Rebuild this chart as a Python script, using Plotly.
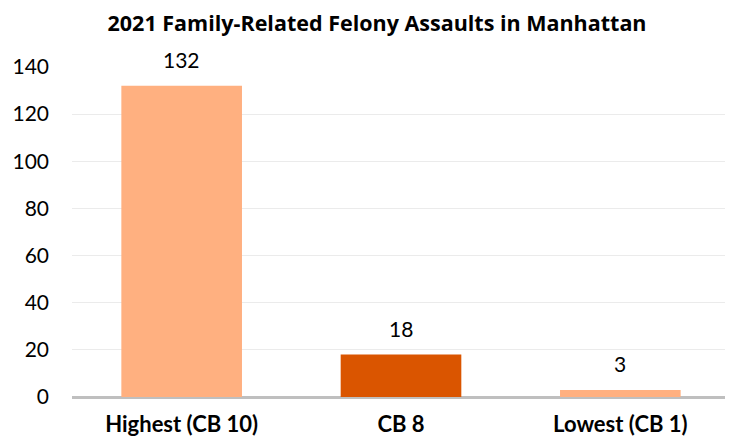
import plotly.graph_objects as go

categories = ["Highest (CB 10)", "CB 8", "Lowest (CB 1)"]
values = [132, 18, 3]
colors = ["#FFB080", "#DA5500", "#FFB080"]
y_ticks = [0, 20, 40, 60, 80, 100, 120, 140]
title = "2021 Family-Related Felony Assaults in Manhattan"

font_family = "Lato, 'Open Sans', sans-serif"

fig = go.Figure()
fig.add_trace(go.Bar(
    x=categories, y=values, marker=dict(color=colors, line=dict(width=0)),
    width=0.55, hoverinfo="skip",
))

for c, v in zip(categories, values):
    fig.add_annotation(x=c, y=v, text=str(v), showarrow=False, yshift=26,
                       font=dict(size=21, color="#000000", family=font_family))

# page body has an 8px margin: figure is sized/offset to compensate
fig.update_layout(
    width=725, height=430,
    margin=dict(l=64, r=3, t=59, b=41),
    paper_bgcolor="white", plot_bgcolor="white",
    showlegend=False,
    title=dict(text="<b>" + title + "</b>", x=0.509, xanchor="center", y=0.965, yanchor="middle",
               font=dict(size=21.5, color="#000000", family="'Open Sans', sans-serif")),
    xaxis=dict(showgrid=False, showline=False, zeroline=False, ticks="", automargin=False,
               tickfont=dict(size=22, color="#000000", family=font_family),
               tickprefix="<b>", ticksuffix="</b>", ticklabelstandoff=12),
    yaxis=dict(range=[0, 140], tickvals=y_ticks, showgrid=True, gridcolor="#EBEBEB", gridwidth=1,
               zeroline=True, zerolinecolor="#BFBFBF", zerolinewidth=3, showline=False,
               ticks="", automargin=False, tickfont=dict(size=21, color="#000000", family=font_family),
               ticklabelstandoff=22),
)

fig.write_html("out.html")
